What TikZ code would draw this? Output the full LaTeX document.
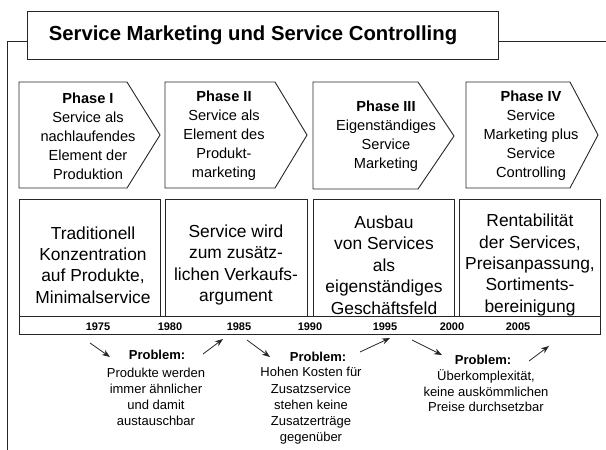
\documentclass[tikz,border=0pt]{standalone}
\usepackage{fontspec}
\setmainfont{Liberation Sans}
\usetikzlibrary{arrows.meta}
\begin{document}
\begin{tikzpicture}[x=1pt,y=-1pt,
  line/.style={draw=black!85,line width=0.9pt},
  phasetxt/.style={align=center,inner sep=0pt,font=\fontsize{14.6}{18.9}\selectfont},
  boxtxt/.style={align=center,inner sep=0pt,font=\fontsize{17.4}{21.4}\selectfont},
  yeartxt/.style={inner sep=0pt,font=\fontsize{11}{13}\selectfont\bfseries},
  probhead/.style={inner sep=0pt,font=\fontsize{13}{16}\selectfont\bfseries},
  probtxt/.style={align=center,inner sep=0pt,font=\fontsize{13}{16.2}\selectfont},
  probarrow/.style={draw=black!85,line width=0.8pt,-{Stealth[length=8pt,width=6pt]}}]
\useasboundingbox (0,0) rectangle (606,450);
% frame lines
\coordinate (fl) at (7,450);
\coordinate (fc) at (7,41);
\coordinate (tl) at (27,41);
\coordinate (tr) at (498,41);
\coordinate (fr) at (606,41);
\draw[line] (fl) -- (fc) -- (tl);
\draw[line] (tr) -- (fr);
\draw[line] (27,11) rectangle (498,59);
\node[inner sep=0pt,font=\fontsize{20.3}{24}\selectfont\bfseries] (title) at (253,35) {Service Marketing und Service Controlling};
% phase chevrons
\draw[line] (19,82) -- (127,82) -- (160,135) -- (127,188) -- (19,188) -- cycle;
\draw[line] (165,82) -- (275,82) -- (307,135) -- (275,188) -- (165,188) -- cycle;
\draw[line] (313,82) -- (418,82) -- (454,136) -- (418,189) -- (313,189) -- cycle;
\draw[line] (466,82) -- (570,82) -- (598,135) -- (570,188) -- (466,188) -- cycle;
\node[phasetxt] (p1) at (88,136) {\textbf{Phase I}\\Service als\\nachlaufendes\\Element der\\Produktion};
\node[phasetxt] (p2) at (224,136) {\textbf{Phase II}\\Service als\\Element des\\Produkt-\\marketing};
\node[phasetxt] (p3) at (386,136) {\textbf{Phase III}\\Eigenständiges\\Service\\Marketing};
\node[phasetxt] (p4) at (531,136) {\textbf{Phase IV}\\Service\\Marketing plus\\Service\\Controlling};
% boxes
\draw[line] (19,199) rectangle (160,316);
\draw[line] (165,199) rectangle (307,316);
\draw[line] (313,199) rectangle (454,316);
\draw[line] (459,199) rectangle (600,316);
\node[boxtxt] (b1) at (93,265) {Traditionell\\Konzentration\\auf Produkte,\\Minimalservice};
\node[boxtxt] (b2) at (236,265) {Service wird\\zum zusätz-\\lichen Verkaufs-\\argument};
\node[boxtxt] (b3) at (384,265) {Ausbau\\von Services\\als\\eigenständiges\\Geschäftsfeld};
\node[boxtxt] (b4) at (530,265) {Rentabilität\\der Services,\\Preisanpassung,\\Sortiments-\\bereinigung};
% timeline
\draw[line] (19,316) rectangle (600,334);
\node[yeartxt] (y1975) at (98,327) {1975};
\node[yeartxt] (y1980) at (170,327) {1980};
\node[yeartxt] (y1985) at (239,327) {1985};
\node[yeartxt] (y1990) at (310,327) {1990};
\node[yeartxt] (y1995) at (385,327) {1995};
\node[yeartxt] (y2000) at (452,327) {2000};
\node[yeartxt] (y2005) at (518,327) {2005};
% problems
\node[probhead] (ph1) at (157,355) {Problem:};
\node[probtxt] (pr1) at (156,397) {Produkte werden\\immer ähnlicher\\und damit\\austauschbar};
\node[probhead] (ph2) at (318,357) {Problem:};
\node[probtxt] (pr2) at (311,406) {Hohen Kosten für\\Zusatzservice\\stehen keine\\Zusatzerträge\\gegenüber};
\node[probhead] (ph3) at (483,360) {Problem:};
\node[probtxt,font=\fontsize{13}{15.5}\selectfont] (pr3) at (486,391) {Überkomplexität,\\keine auskömmlichen\\Preise durchsetzbar};
\coordinate (a1s) at (90,343); \coordinate (a1e) at (110,357);
\coordinate (a2s) at (203,354); \coordinate (a2e) at (223,339);
\coordinate (a3s) at (247,340); \coordinate (a3e) at (270,357);
\coordinate (a4s) at (360,352); \coordinate (a4e) at (390,338);
\coordinate (a5s) at (412,340); \coordinate (a5e) at (442,355);
\coordinate (a6s) at (529,361); \coordinate (a6e) at (549,346);
\draw[probarrow] (a1s) -- (a1e);
\draw[probarrow] (a2s) -- (a2e);
\draw[probarrow] (a3s) -- (a3e);
\draw[probarrow] (a4s) -- (a4e);
\draw[probarrow] (a5s) -- (a5e);
\draw[probarrow] (a6s) -- (a6e);
\end{tikzpicture}
\end{document}
